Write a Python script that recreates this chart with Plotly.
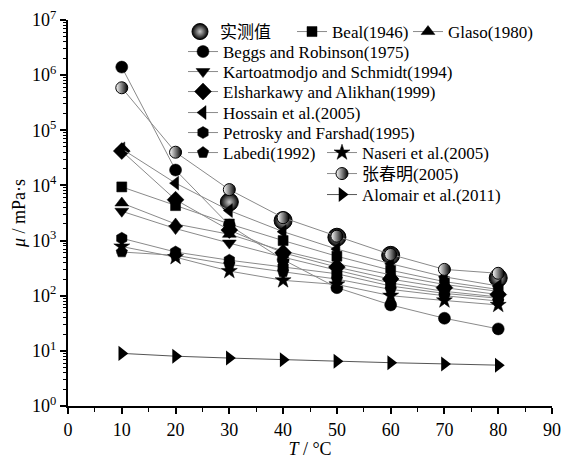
import plotly.graph_objects as go

# Temperatures (°C) and viscosities (mPa·s)
temps = [10, 20, 30, 40, 50, 60, 70, 80]
measured_T = [30, 40, 50, 60, 80]
measured = [5000, 2300, 1150, 540, 210]

beal = [9400, 4300, 2000, 1000, 520, 290, 180, 130]
glaso = [4800, 2000, 1300, 650, 380, 240, 160, 120]
beggs = [1.4e6, 1.9e4, 1900, 450, 140, 68, 39, 25]
kartoatmodjo = [3400, 1650, 900, 500, 290, 170, 120, 95]
elsharkawy = [4.2e4, 5500, 1550, 600, 330, 200, 140, 105]
hossain = [4.6e4, 1.1e4, 3500, 1450, 700, 380, 220, 150]
petrosky = [1100, 620, 440, 330, 250, 150, 110, 90]
labedi = [620, 540, 370, 270, 200, 130, 100, 80]
naseri = [780, 500, 280, 190, 160, 100, 82, 68]
zhang = [5.9e5, 4.0e4, 8400, 2600, 1200, 560, 300, 255]
alomair = [9.0, 8.0, 7.4, 6.9, 6.45, 6.1, 5.8, 5.5]

decades = list(range(0, 8))
y_tickvals = [10 ** d for d in decades]
y_ticktext = ["10<sup>%d</sup>" % d for d in decades]
y_minorvals = [m * 10 ** d for d in decades[:-1] for m in range(2, 10)]

FONT = "Liberation Serif, Times New Roman, Noto Sans CJK SC, serif"
W, H = 571, 459
ML, MR, MT, MB = 68, 19, 20, 53
PW, PH = W - ML - MR, H - MT - MB
LINE = "#8a8a8a"

# name, values, symbol, marker size, legend slot (left px, center px)
series = [
    ("Beal(1946)", beal, "square", 10, (292, 32)),
    ("Glaso(1980)", glaso, "triangle-up", 12, (408, 32)),
    ("Beggs and Robinson(1975)", beggs, "circle", 12, (183, 52)),
    ("Kartoatmodjo and Schmidt(1994)", kartoatmodjo, "triangle-down", 12, (183, 72)),
    ("Elsharkawy and Alikhan(1999)", elsharkawy, "diamond", 13, (183, 92)),
    ("Hossain et al.(2005)", hossain, "triangle-left", 12, (183, 113)),
    ("Petrosky and Farshad(1995)", petrosky, "hexagon", 12, (183, 133)),
    ("Labedi(1992)", labedi, "pentagon", 12, (183, 153)),
    ("Naseri et al.(2005)", naseri, "star", 12, (322, 153)),
]

fig = go.Figure()
legend_layout = {}


def add_legend(idx, left, cy):
    key = "legend" if idx == 1 else "legend%d" % idx
    legend_layout[key] = dict(
        x=(left - ML) / PW, y=1 - (cy - MT) / PH,
        xanchor="left", yanchor="middle", bgcolor="rgba(0,0,0,0)",
        borderwidth=0, font=dict(family=FONT, size=17, color="black"),
        tracegroupgap=0,
    )
    return key


# measured values: shaded spheres, no connecting line
lg = add_legend(1, 180, 32)
fig.add_trace(go.Scatter(
    x=measured_T, y=measured, mode="markers", name="实测值", legend=lg,
    marker=dict(symbol="circle", size=18, color="#000000",
                gradient=dict(type="radial", color="#c8c8c8"),
                line=dict(color="black", width=1)),
))

idx = 2
for name, vals, sym, size, (left, cy) in series:
    lg = add_legend(idx, left, cy)
    idx += 1
    fig.add_trace(go.Scatter(
        x=temps, y=vals, mode="lines+markers", name=name, legend=lg,
        line=dict(color=LINE, width=1),
        marker=dict(symbol=sym, size=size, color="black",
                    line=dict(color="black", width=0.5)),
    ))

lg = add_legend(idx, 322, 174)
idx += 1
fig.add_trace(go.Scatter(
    x=temps, y=zhang, mode="lines+markers", name="张春明(2005)", legend=lg,
    line=dict(color=LINE, width=1),
    marker=dict(symbol="circle", size=12, color="white",
                gradient=dict(type="horizontal", color="black"),
                line=dict(color="black", width=1)),
))

lg = add_legend(idx, 322, 195)
fig.add_trace(go.Scatter(
    x=temps, y=alomair, mode="lines+markers", name="Alomair et al.(2011)", legend=lg,
    line=dict(color="#555555", width=1),
    marker=dict(symbol="triangle-right", size=13, color="black"),
))

fig.update_layout(
    width=W, height=H,
    margin=dict(l=ML, r=MR, t=MT, b=MB, autoexpand=False),
    paper_bgcolor="white", plot_bgcolor="white",
    font=dict(family=FONT, size=17, color="black"),
    showlegend=True,
    **legend_layout,
)

fig.update_xaxes(
    range=[0, 90], tickvals=list(range(0, 100, 10)),
    ticks="outside", ticklen=6, tickwidth=1.5, tickcolor="black",
    minor=dict(ticks="outside", ticklen=4, tickvals=list(range(5, 90, 10)),
               tickcolor="black", tickwidth=1.2),
    showline=True, linewidth=2, linecolor="black", mirror=False,
    showgrid=False, zeroline=False,
    tickfont=dict(family=FONT, size=18),
    title=dict(text="<i>T</i> / °C", font=dict(family=FONT, size=18), standoff=4),
)
fig.update_yaxes(
    type="log", range=[0, 7], tickvals=y_tickvals, ticktext=y_ticktext,
    ticks="outside", ticklen=6, tickwidth=1.5, tickcolor="black",
    minor=dict(ticks="outside", ticklen=3, tickvals=y_minorvals,
               tickcolor="black", tickwidth=1),
    showline=True, linewidth=2, linecolor="black", mirror=False,
    showgrid=False, zeroline=False,
    tickfont=dict(family=FONT, size=18),
    title=dict(text="<i>μ</i> / mPa·s", font=dict(family=FONT, size=18), standoff=2),
)

fig.write_html("out.html")
